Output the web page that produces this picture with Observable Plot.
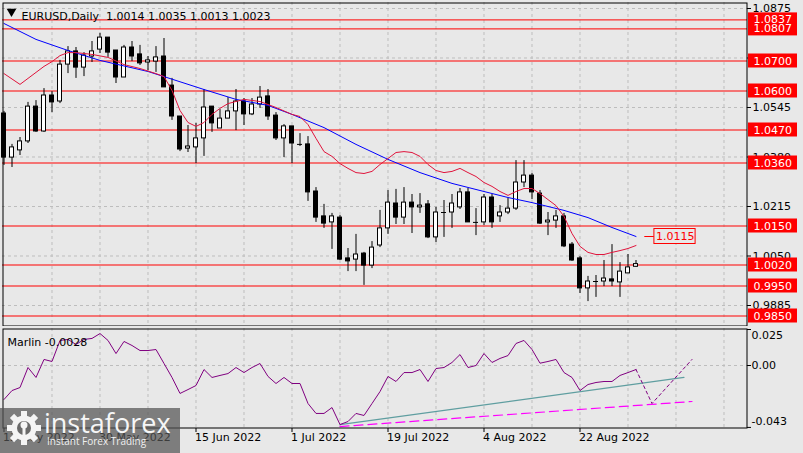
<!DOCTYPE html>
<html><head><meta charset="utf-8">
<script src="https://cdn.jsdelivr.net/npm/d3@7"></script>
<script src="https://cdn.jsdelivr.net/npm/@observablehq/plot@0.6"></script>
<style>
html,body{margin:0;padding:0;background:#e8e8e8;}
#wrap{position:relative;width:803px;height:453px;overflow:hidden;background:#e8e8e8;font-family:"DejaVu Sans",sans-serif;}
#wrap > svg{position:absolute;left:0;}
#wm{position:absolute;left:0;top:408px;width:180px;height:45px;background:rgba(83,83,83,0.72);}
</style></head>
<body><div id="wrap"></div>
<script>
// ---------- data ----------
const titleText = "EURUSD,Daily  1.0014 1.0035 1.0013 1.0023";
const dateLabels = ["12 May 2022","30 May 2022","15 Jun 2022","1 Jul 2022","19 Jul 2022","4 Aug 2022","22 Aug 2022"];
const dateLabelBars = [0,12,24,36,48,60,72];
const gridBars = [6,12,18,24,30,36,42,48,54,60,66,72,78,84,90];

const open  = [1.0525,1.0378,1.0402,1.0432,1.0548,1.0465,1.0585,1.0565,1.0688,1.0732,
               1.0678,1.0715,1.0738,1.0778,1.0735,1.0645,1.0745,1.0722,1.0695,1.0698,
               1.0715,1.0618,1.0515,1.0408,1.0412,1.0442,1.0548,1.0475,1.0508,1.0532,
               1.0565,1.0522,1.0555,1.0582,1.0518,1.0442,1.0482,1.0422,1.0422,1.0265,
               1.0182,1.0162,1.0178,1.0042,1.0038,1.0058,1.0018,1.0085,1.0142,1.0225,
               1.0178,1.0228,1.0212,1.0222,1.0112,1.0195,1.0195,1.0212,1.0262,1.0162,
               1.0162,1.0245,1.0182,1.0195,1.0208,1.0295,1.0318,1.0258,1.0162,1.0168,
               1.0182,1.0088,1.0042,0.9942,0.9965,0.9965,0.9972,0.9962,0.9992,1.0014];
const high  = [1.0532,1.0422,1.0445,1.0562,1.0568,1.0608,1.0598,1.0702,1.0748,1.0745,
               1.0728,1.0765,1.0792,1.0778,1.0735,1.0752,1.0765,1.0752,1.0715,1.0748,
               1.0775,1.0642,1.0515,1.0485,1.0492,1.0605,1.0548,1.0538,1.0578,1.0605,
               1.0575,1.0575,1.0615,1.0605,1.0528,1.0488,1.0482,1.0458,1.0448,1.0278,
               1.0222,1.0192,1.0185,1.0075,1.0122,1.0062,1.0098,1.0202,1.0268,1.0272,
               1.0278,1.0255,1.0258,1.0235,1.0212,1.0235,1.0255,1.0275,1.0275,1.0208,
               1.0255,1.0255,1.0218,1.0242,1.0368,1.0368,1.0325,1.0268,1.0195,1.0202,
               1.0192,1.0095,1.0048,0.9982,0.9985,1.0035,1.0088,1.0028,1.0055,1.0035];
const low   = [1.0352,1.0345,1.0385,1.0425,1.0462,1.0462,1.0528,1.0558,1.0658,1.0642,
               1.0648,1.0695,1.0725,1.0712,1.0625,1.0645,1.0698,1.0685,1.0668,1.0662,
               1.0612,1.0502,1.0398,1.0395,1.0358,1.0382,1.0462,1.0475,1.0508,1.0468,
               1.0485,1.0518,1.0542,1.0502,1.0435,1.0378,1.0358,1.0415,1.0232,1.0162,
               1.0142,1.0072,1.0035,0.9998,0.9998,0.9952,1.0008,1.0078,1.0122,1.0155,
               1.0155,1.0125,1.0192,1.0108,1.0095,1.0112,1.0142,1.0205,1.0162,1.0118,
               1.0152,1.0142,1.0162,1.0188,1.0202,1.0278,1.0238,1.0155,1.0118,1.0142,
               1.0078,1.0032,0.9925,0.9898,0.9912,0.9948,0.9948,0.9912,0.9992,1.0013];
const close = [1.0378,1.0412,1.0432,1.0548,1.0465,1.0585,1.0562,1.0688,1.0732,1.0678,
               1.0718,1.0732,1.0778,1.0728,1.0645,1.0745,1.0715,1.0692,1.0702,1.0712,
               1.0612,1.0515,1.0405,1.0415,1.0442,1.0545,1.0492,1.0508,1.0532,1.0565,
               1.0522,1.0555,1.0578,1.0515,1.0442,1.0482,1.0425,1.0422,1.0262,1.0178,
               1.0158,1.0182,1.0038,1.0032,1.0055,1.0018,1.0078,1.0142,1.0228,1.0178,
               1.0228,1.0212,1.0218,1.0112,1.0195,1.0195,1.0225,1.0262,1.0162,1.0162,
               1.0245,1.0162,1.0195,1.0208,1.0295,1.0318,1.0262,1.0158,1.0168,1.0182,
               1.0082,1.0035,0.9942,0.9965,0.9965,0.9975,0.9965,0.9998,1.0012,1.0023];

const maSlowBars = [0,4,8,12,18,20,25,29,33,36,40,44,48,52,56,60,63,66,70,73,76,79];
const maSlowVals = [1.0825,1.0772,1.0735,1.0702,1.0665,1.0648,1.0605,1.0572,1.0552,1.0522,1.0478,
                    1.0422,1.0372,1.0328,1.0292,1.0265,1.0245,1.0228,1.0202,1.0178,1.0145,1.0115];
const maFastBars = [0,2,3,5,6,7,8,9,11,13,15,17,19,20,21,22,23,24,25,26,27,28,30,32,34,36,37,38,39,40,
                    41,42,43,44,45,46,47,48,49,50,51,52,53,54,55,56,57,58,59,60,61,62,63,64,65,66,67,68,69,70,
                    71,72,73,74,75,76,77,78,79];
const maFastVals = [1.0658,1.0622,1.0642,1.0682,1.0698,1.0718,1.0728,1.0728,1.0722,1.0712,1.0688,1.0675,1.0658,1.0648,
                    1.0602,1.0535,1.0495,1.0482,1.0495,1.0522,1.0542,1.0558,1.0572,1.0565,1.0545,1.0522,1.0515,1.0488,
                    1.0442,1.0398,1.0382,1.0358,1.0342,1.0328,1.0325,1.0332,1.0355,1.0375,1.0395,1.0398,1.0395,1.0382,
                    1.0355,1.0335,1.0328,1.0332,1.0342,1.0328,1.0315,1.0295,1.0282,1.0265,1.0252,1.0265,1.0275,1.0275,
                    1.0258,1.0238,1.0218,1.0182,1.0125,1.0082,1.0062,1.0055,1.0055,1.0062,1.0068,1.0075,1.0085];

const levels = [1.0807,1.0837,1.0700,1.0600,1.0470,1.0360,1.0150,1.0020,0.9950,0.9850];
const priceTicks = [0.9885,1.0050,1.0215,1.0380,1.0545,1.0710,1.0875];
const priceTickLabels = ["0.9885","1.0050","1.0215","1.0380","1.0545","","1.0875"]; // 1.0710 hidden behind the 1.0700 box
const slowLabel = "1.0115";

const marlin = [-0.0236,-0.0174,-0.0153,-0.0014,-0.0083,0.0042,0.0028,0.0174,0.0181,0.0146,
                0.0181,0.0188,0.0222,0.0174,0.0083,0.0167,0.0139,0.0104,0.0104,0.0111,
                0.0014,-0.0083,-0.0194,-0.0167,-0.0139,-0.0028,-0.0083,-0.0069,-0.0056,-0.0014,
                -0.0049,-0.0014,0.0014,-0.0076,-0.0125,-0.0083,-0.0125,-0.0125,-0.0264,-0.0333,
                -0.0333,-0.0292,-0.0410,-0.0389,-0.0333,-0.0347,-0.0264,-0.0181,-0.0076,-0.0111,
                -0.0049,-0.0049,-0.0028,-0.0111,-0.0021,-0.0014,0.0021,0.0076,-0.0014,0.0000,
                0.0083,0.0021,0.0049,0.0069,0.0153,0.0174,0.0111,0.0016,0.0028,0.0042,
                -0.0049,-0.0083,-0.0174,-0.0132,-0.0118,-0.0111,-0.0111,-0.0069,-0.0049,-0.0028];
const projBars = [79,81,86];
const projVals = [-0.0028,-0.0264,0.0042];
const tealBars = [42,85];
const tealVals = [-0.0410,-0.0083];
const magBars = [42,86];
const magVals = [-0.0424,-0.0250];
const marlinTicks = [0.025,0.00,-0.043];
const marlinTickLabels = ["0.025","0.00","-0.043"];
const marlinLabel = "Marlin -0.0028";

// ---------- build ----------
const N = open.length;
const bars = d3.range(N).map(i => ({i, o: open[i], h: high[i], l: low[i], c: close[i]}));
const slow = maSlowBars.map((b, k) => ({i: b, v: maSlowVals[k]}));
const fast = maFastBars.map((b, k) => ({i: b, v: maFastVals[k]}));
const mar = marlin.map((v, i) => ({i, v}));
const proj = projBars.map((b, k) => ({i: b, v: projVals[k]}));
const teal = tealBars.map((b, k) => ({i: b, v: tealVals[k]}));
const mag = magBars.map((b, k) => ({i: b, v: magVals[k]}));
const ticksM = marlinTicks.map((v, k) => ({v, label: marlinTickLabels[k], k}));

const BW = 8;                           // px per bar
const xDomain = [(2 - 3.5) / BW, (747 - 3.5) / BW];
const xR = xDomain[1];
const px = 1 / BW;                      // one pixel in bar units
const yDomain = [0.9815, 1.0895];
const ppx = (yDomain[1] - yDomain[0]) / 324; // one pixel in price units
const font = "DejaVu Sans";
const gridStyle = {stroke: "#bdbdbd", strokeDasharray: "3,3", strokeWidth: 1};
const last = N - 1;
const slowLast = maSlowVals[maSlowVals.length - 1];
const pTicks = priceTicks.map((v, k) => ({v, label: priceTickLabels[k]}));

const main = Plot.plot({
  width: 803, height: 326,
  marginLeft: 2, marginRight: 56, marginTop: 2, marginBottom: 0,
  x: {domain: xDomain, axis: null},
  y: {domain: yDomain, axis: null},
  style: {background: "transparent", fontFamily: font, fontSize: "11px"},
  marks: [
    Plot.ruleX(gridBars, {x: d => d, ...gridStyle}),
    Plot.ruleY(priceTicks, {y: d => d, ...gridStyle}),
    Plot.ruleY(levels, {y: d => d, stroke: "#ff0000", strokeWidth: 1}),
    Plot.ruleX(bars, {x: "i", y1: "l", y2: "h", stroke: "black", strokeWidth: 1}),
    Plot.rect(bars, {x1: d => d.i - 2 * px, x2: d => d.i + 2 * px, y1: "o", y2: "c",
      fill: d => d.c >= d.o ? "white" : "black", stroke: "black", strokeWidth: 1}),
    Plot.ruleY(bars.filter(d => d.o === d.c), {y: "c", x1: d => d.i - 2.5 * px, x2: d => d.i + 2.5 * px, stroke: "black"}),
    Plot.line(slow, {x: "i", y: "v", stroke: "#0000ff", strokeWidth: 1}),
    Plot.line(fast, {x: "i", y: "v", stroke: "#e0143c", strokeWidth: 1}),
    // slow MA value label
    Plot.ruleY([slowLast], {x1: last + 1.1, x2: last + 2.3, stroke: "#ff0000"}),
    Plot.rect([slowLast], {x1: last + 2.3, x2: last + 7.45, y1: d => d + 7.5 * ppx, y2: d => d - 7.5 * ppx,
      fill: "#e8e8e8", stroke: "#ff0000", strokeWidth: 1}),
    Plot.text([slowLast], {x: last + 4.9, y: d => d, text: () => slowLabel, fill: "#ff0000", fontSize: 11}),
    Plot.frame({stroke: "black", inset: 0.5}),
    // right axis
    Plot.ruleY(priceTicks, {y: d => d, x1: xR, x2: xR + 4 * px, stroke: "black"}),
    Plot.text(pTicks.filter(d => d.label), {x: xR, y: "v", text: "label", textAnchor: "start", dx: 5, fill: "black", fontSize: 11}),
    Plot.rect(levels, {x1: xR + 1 * px, x2: xR + 50 * px, y1: d => d + 7 * ppx, y2: d => d - 7 * ppx, fill: "#ff0000"}),
    Plot.text(levels, {x: xR, y: d => d, text: d => d.toFixed(4), textAnchor: "start", dx: 6, fill: "white", fontSize: 11}),
    // title
    Plot.dot([0], {frameAnchor: "top-left", dx: 9, dy: 9, symbol: "triangle", r: 3.6, rotate: 180, fill: "black", stroke: "none"}),
    Plot.text([titleText], {frameAnchor: "top-left", dx: 19, dy: 10, textAnchor: "start", fill: "black", fontSize: 11})
  ]
});

const mDomain = [-0.04375, 0.0257];
const mpx = (mDomain[1] - mDomain[0]) / 100;
const tickText = (filter, dy) => Plot.text(ticksM.filter(filter), {x: xR, y: "v", text: "label", textAnchor: "start",
  dx: 4, dy, fill: "black", fontSize: 11});
const ind = Plot.plot({
  width: 803, height: 126,
  marginLeft: 2, marginRight: 56, marginTop: 1, marginBottom: 25,
  x: {domain: xDomain, axis: null},
  y: {domain: mDomain, axis: null},
  style: {background: "transparent", fontFamily: font, fontSize: "11px"},
  marks: [
    Plot.ruleX(gridBars, {x: d => d, ...gridStyle}),
    Plot.ruleY([0], {y: d => d, ...gridStyle}),
    Plot.line(teal, {x: "i", y: "v", stroke: "#5f9ea0", strokeWidth: 1.2}),
    Plot.line(mag, {x: "i", y: "v", stroke: "#ff00ff", strokeWidth: 1.2, strokeDasharray: "9,5"}),
    Plot.line(mar, {x: "i", y: "v", stroke: "#800080", strokeWidth: 1}),
    Plot.line(proj, {x: "i", y: "v", stroke: "#800080", strokeWidth: 1, strokeDasharray: "3,3"}),
    Plot.frame({stroke: "black", inset: 0.5}),
    Plot.ruleY(marlinTicks, {y: d => d, x1: xR, x2: xR + 4 * px, stroke: "black"}),
    tickText(d => d.k === 0, 6),
    tickText(d => d.k === 1, 0),
    tickText(d => d.k === 2, -6),
    Plot.ruleX(dateLabelBars, {x: d => d, y1: mDomain[0], y2: mDomain[0] - 4 * mpx, stroke: "black"}),
    Plot.text(dateLabelBars, {x: d => d, text: (d, k) => dateLabels[k], frameAnchor: "bottom", dy: 12, dx: -1,
      textAnchor: "start", fill: "black", fontSize: 11}),
    Plot.text([marlinLabel], {frameAnchor: "top-left", dx: 5, dy: 10, textAnchor: "start", fill: "black", fontSize: 11})
  ]
});

const wrap = document.getElementById("wrap");
main.style.top = "0px";
ind.style.top = "327px";
wrap.appendChild(main);
wrap.appendChild(ind);

// watermark
const wm = document.createElement("div");
wm.id = "wm";
wm.innerHTML = `<svg width="180" height="45" xmlns="http://www.w3.org/2000/svg">
  <g transform="translate(24,20)" fill="#f4f4f4">
    ${d3.range(8).map(k => `<rect x="-3" y="-17" width="6" height="7" transform="rotate(${k*45})"/>`).join("")}
    <circle r="12.5"/>
    <circle r="7" fill="#6a6a6a"/>
    <rect x="-1.5" y="-3" width="3" height="16" />
    <circle r="3.5" cy="-3"/>
  </g>
  <text x="44" y="25" font-family="Open Sans" font-size="27" fill="#f6f6f6">instaforex</text>
  <text x="47" y="37" font-family="Open Sans" font-size="10" fill="#f0f0f0">Instant Forex Trading</text>
</svg>`;
wrap.appendChild(wm);
</script>
</body></html>
